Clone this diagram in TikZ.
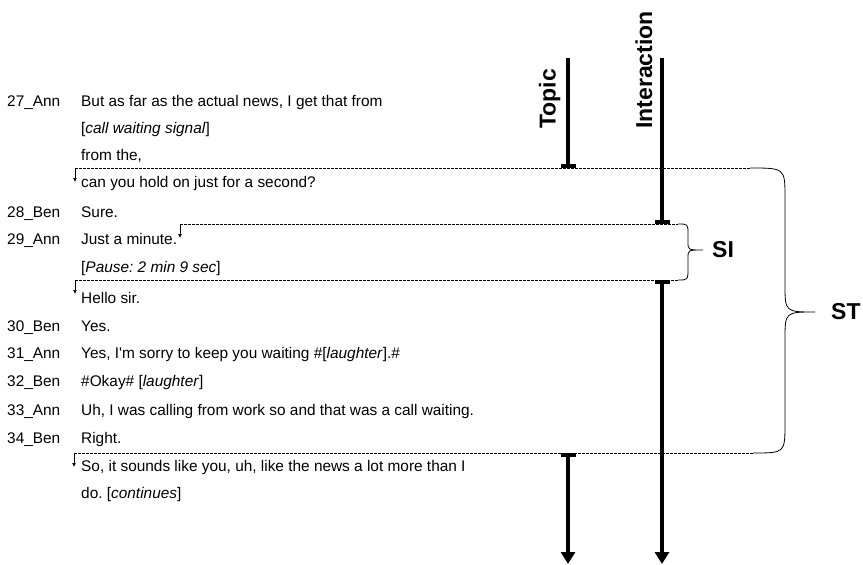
\documentclass[tikz,border=0pt]{standalone}
\usepackage{fontspec}
\setmainfont{Liberation Sans}[Ligatures=TeXOff]
\usetikzlibrary{arrows.meta}
\begin{document}
\begin{tikzpicture}[x=1pt,y=-1pt,>=latex,
                txt/.style={anchor=base west,inner sep=0pt,font=\fontsize{15.4}{18}\selectfont\frenchspacing},
                lbl/.style={inner sep=0pt,font=\fontsize{23}{27}\selectfont\bfseries},
                cut/.style={dash pattern=on 2.5pt off 1.5pt,line width=0.8pt},
                tick/.style={line width=0.7pt,-{Latex[length=4pt,width=4pt]}},
                bar/.style={line width=4pt},
                brace/.style={line width=0.8pt}]
                \useasboundingbox (0,0) rectangle (863,565);
                % speakers
                \node[txt] (s27) at (7,106) {27\_Ann};
                \node[txt] (s28) at (7,217) {28\_Ben};
                \node[txt] (s29) at (7,244) {29\_Ann};
                \node[txt] (s30) at (7,331) {30\_Ben};
                \node[txt] (s31) at (7,358) {31\_Ann};
                \node[txt] (s32) at (7,386) {32\_Ben};
                \node[txt] (s33) at (7,415) {33\_Ann};
                \node[txt] (s34) at (7,443) {34\_Ben};
                % turns
                \node[txt] (t27a) at (81,106) {But as far as the actual news, I get that from};
                \node[txt] (t27b) at (81,133) {[\textit{call waiting signal}]};
                \node[txt] (t27c) at (81,160) {from the,};
                \node[txt] (t27d) at (81,187) {can you hold on just for a second?};
                \node[txt] (t28) at (81,217) {Sure.};
                \node[txt] (t29a) at (81,244) {Just a minute.};
                \node[txt] (t29b) at (81,272) {[\textit{Pause: 2 min 9 sec}]};
                \node[txt] (t29c) at (81,303) {Hello sir.};
                \node[txt] (t30) at (81,331) {Yes.};
                \node[txt] (t31) at (81,358) {Yes, I'm sorry to keep you waiting \#[\textit{laughter}].\#};
                \node[txt] (t32) at (81,386) {\#Okay\# [\textit{laughter}]};
                \node[txt] (t33) at (81,415) {Uh, I was calling from work so and that was a call waiting.};
                \node[txt] (t34) at (81,443) {Right.};
                \node[txt] (t35a) at (81,471) {So, it sounds like you, uh, like the news a lot more than I};
                \node[txt] (t35b) at (81,498) {do. [\textit{continues}]};
                % cuts
                \coordinate (c1) at (75,168);  \coordinate (e1) at (750,168);
                \coordinate (c2) at (180,224); \coordinate (e2) at (678,224);
                \coordinate (c3) at (75,280);  \coordinate (e3) at (678,280);
                \coordinate (c4) at (74,453);  \coordinate (e4) at (753,453);
                \draw[cut] (c1)--(e1);
                \draw[cut] (c2)--(e2);
                \draw[cut] (c3)--(e3);
                \draw[cut] (c4)--(e4);
                \draw[tick] (c1)--++(0,14);
                \draw[tick] (c2)--++(0,14);
                \draw[tick] (c3)--++(0,14);
                \draw[tick] (c4)--++(0,14);
                % braces
                \draw[brace] (e1)..controls(785,168)..(785,198)--(785,284)..controls(785,312)..(815,312)
                ..controls(785,312)..(785,340)--(785,423)..controls(785,453)..(e4);
                \draw[brace] (e2)..controls(688,224)..(688,234)--(688,242)..controls(688,250)..(703,250)
                ..controls(688,250)..(688,258)--(688,268)..controls(688,280)..(e3);
                \node[lbl,anchor=west] (si) at (712,250) {SI};
                \node[lbl,anchor=west] (st) at (831,312) {ST};
                % lines
                \coordinate (tp1) at (568,58);  \coordinate (tp2) at (568,168);
                \coordinate (tp3) at (568,453); \coordinate (tp4) at (568,564);
                \coordinate (ia1) at (662,58);  \coordinate (ia2) at (662,224);
                \coordinate (ia3) at (662,280); \coordinate (ia4) at (662,564);
                \draw[bar,-{Bar[width=15pt]}] (tp1)--(tp2);
                \draw[bar,{Bar[width=15pt]}-{Triangle[length=12pt,width=14pt]}] (tp3)--(tp4);
                \draw[bar,-{Bar[width=15pt]}] (ia1)--(ia2);
                \draw[bar,{Bar[width=15pt]}-{Triangle[length=12pt,width=14pt]}] (ia3)--(ia4);
                \node[lbl,rotate=90,anchor=base west] (topic) at (555.5,129) {Topic};
                \node[lbl,rotate=90,anchor=base west] (inter) at (652,129) {Interaction};
            \end{tikzpicture}
\end{document}
